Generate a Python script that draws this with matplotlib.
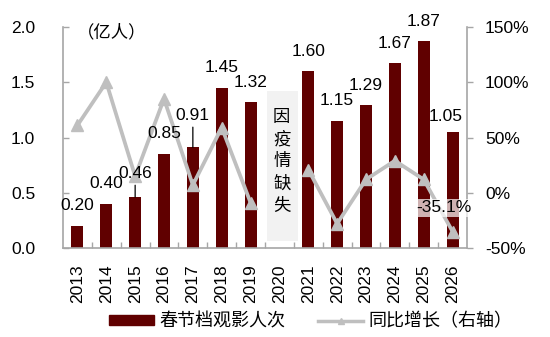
import numpy as np
import matplotlib
matplotlib.use("Agg")
import matplotlib.pyplot as plt
from matplotlib.ticker import FixedLocator, FuncFormatter

plt.rcParams['font.family'] = ['Liberation Sans', 'Noto Sans CJK SC', 'DejaVu Sans']
plt.rcParams['axes.unicode_minus'] = False

# данные
years = ["2013", "2014", "2015", "2016", "2017", "2018", "2019",
         "2020", "2021", "2022", "2023", "2024", "2025", "2026"]
viewers = [0.20, 0.40, 0.46, 0.85, 0.91, 1.45, 1.32,
           np.nan, 1.60, 1.15, 1.29, 1.67, 1.87, 1.05]
growth = [61, 100, 15, 85, 7, 59, -9,
          np.nan, 21, -28, 12, 29, 12, -35.1]
missing_year = "2020"
missing_text = "因疫情缺失"

BAR = "#600000"
LINE = "#BFBFBF"
SPINE = "#A6A6A6"

fig = plt.figure(figsize=(5.5, 3.37), dpi=100)
ax = fig.add_axes([63 / 550, 1 - 248 / 337, 404 / 550, 221 / 337])
x = np.arange(len(years))

ax.bar(x, viewers, width=0.42, color=BAR, zorder=2)
ax.set_xlim(-0.5, len(years) - 0.5)
ax.set_ylim(0, 2.0)
ax.set_yticks([0, 0.5, 1.0, 1.5, 2.0])
ax.yaxis.set_major_formatter(FuncFormatter(lambda v, p: f"{v:.1f}"))
ax.set_xticks(x)
ax.set_xticklabels(years, rotation=90)
ax.xaxis.set_minor_locator(FixedLocator(np.arange(0.5, len(years) - 1, 1)))
ax.tick_params(axis="x", which="major", length=0, pad=12, labelsize=12.5)
ax.tick_params(axis="x", which="minor", direction="in", length=4,
               color=SPINE, width=1)
ax.tick_params(axis="y", direction="in", length=4, color=SPINE, width=1,
               pad=20, labelsize=12.5)
for s in ["top", "right"]:
    ax.spines[s].set_visible(False)
for s in ["left", "bottom"]:
    ax.spines[s].set_color(SPINE)
    ax.spines[s].set_linewidth(1.2)

ax.text(0.035, 0.977, "（亿人）", transform=ax.transAxes, ha="left",
        va="center", fontsize=12.5)

# серый блок 2020
k = years.index(missing_year)
ax.add_patch(plt.Rectangle((k - 0.44, 0.06), 1.07, 1.36, color="#F2F2F2",
                           zorder=1, lw=0))
ax.text(k + 0.08, 0.78, "\n".join(missing_text), ha="center", va="center",
        fontsize=12.5, linespacing=1.45, zorder=3)

ax2 = ax.twinx()
ax2.plot(x, growth, color=LINE, lw=2.7, marker="^", markersize=8.5, zorder=3)
ax2.set_ylim(-50, 150)
ax2.set_yticks([-50, 0, 50, 100, 150])
ax2.yaxis.set_major_formatter(FuncFormatter(lambda v, p: f"{v:.0f}%"))
ax2.tick_params(axis="y", direction="out", length=4, color=SPINE, width=1,
                pad=9, labelsize=12.5)
for s in ["top", "left", "bottom"]:
    ax2.spines[s].set_visible(False)
ax2.spines["right"].set_color(SPINE)
ax2.spines["right"].set_linewidth(1.2)

# подписи столбцов (поверх линии)
special = {"0.46": (0, 17, True), "0.91": (0, 23, True), "1.05": (-5, 11, False)}
for i, v in enumerate(viewers):
    if np.isnan(v):
        continue
    lab = f"{v:.2f}"
    dx, dy, lead = special.get(lab, (0, 14.5, False))
    kw = {}
    if lead:
        kw["arrowprops"] = dict(arrowstyle="-", color="black", lw=0.9,
                                shrinkA=1, shrinkB=0)
    ax2.annotate(lab, (i, v), xycoords=ax.transData, xytext=(dx, dy),
                 textcoords="offset points", ha="center", va="center",
                 fontsize=12.5, zorder=5, **kw)

ax2.annotate(f"{growth[-1]:.1f}%", (x[-1], growth[-1]), xytext=(-6, 17),
             textcoords="offset points", ha="center", va="center",
             fontsize=12.5, zorder=6,
             bbox=dict(boxstyle="square,pad=0.1", fc="white", ec="none",
                       alpha=0.7))

h1 = plt.Rectangle((0, 0), 1, 1, color=BAR)
h2, = ax2.plot([], [], color=LINE, lw=2.5, marker="^", markersize=5)
fig.legend([h1, h2], ["春节档观影人次", "同比增长（右轴）"], loc="center",
           bbox_to_anchor=(311 / 550, 1 - 322 / 337), ncol=2, frameon=False,
           fontsize=13, handlelength=2.5, handleheight=0.5,
           handletextpad=0.3, columnspacing=1.8, numpoints=1)

fig.savefig("out.png", dpi=100)
